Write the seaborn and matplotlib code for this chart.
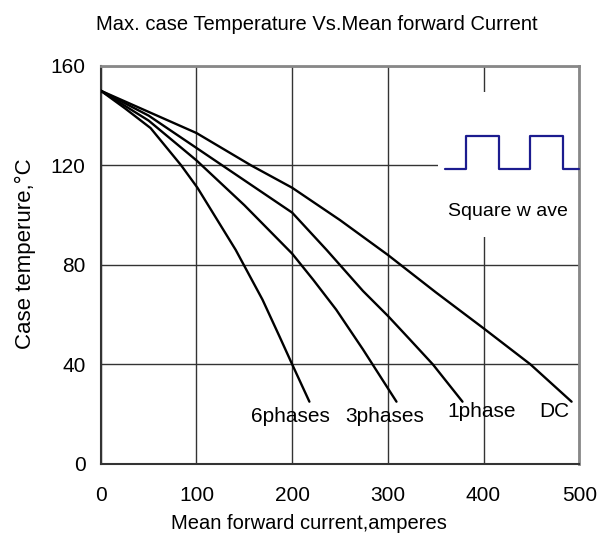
import matplotlib
matplotlib.use("Agg")
import matplotlib.pyplot as plt
import seaborn as sns
import pandas as pd
from matplotlib.patches import Rectangle

# values
current_6ph = [0, 25, 52, 84, 101, 125, 141, 169, 187, 200, 218]
temp_6ph = [150, 143, 135, 120, 111, 96, 86, 66, 51, 40, 25]

current_3ph = [0, 50, 100, 150, 200, 222, 246, 274, 309]
temp_3ph = [150, 138, 122, 104, 84.5, 74, 62, 46, 25]

current_1ph = [0, 50, 100, 150, 200, 236, 274, 300, 323, 347, 378]
temp_1ph = [150, 140, 127, 114, 101, 86, 69.5, 59.5, 50, 40, 25]

current_dc = [0, 50, 100, 157, 200, 250, 300, 350, 400, 449, 492]
temp_dc = [150, 141.5, 133, 120, 111, 98, 84, 69, 54.5, 40, 25]

series_names = ["6phases", "3phases", "1phase", "DC"]
label_x = [198, 297, 398, 474]
label_y = [19, 19, 21, 21]

wave_x = [360, 382, 382, 416, 416, 449, 449, 483, 483, 500]
wave_y = [118.5, 118.5, 132, 132, 118.5, 118.5, 132, 132, 118.5, 118.5]

x_ticks = [0, 100, 200, 300, 400, 500]
y_ticks = [0, 40, 80, 120, 160]

frames = []
for name, xs, ys in zip(series_names,
                        [current_6ph, current_3ph, current_1ph, current_dc],
                        [temp_6ph, temp_3ph, temp_1ph, temp_dc]):
    frames.append(pd.DataFrame({"current": xs, "temp": ys, "series": name}))
df = pd.concat(frames, ignore_index=True)

sns.set_style("white")
plt.rcParams["font.family"] = ["Liberation Sans", "DejaVu Sans"]
plt.rcParams["text.color"] = "black"
plt.rcParams["xtick.color"] = "black"
plt.rcParams["ytick.color"] = "black"

fig, ax = plt.subplots(figsize=(6.11, 5.40), dpi=100)
fig.subplots_adjust(left=0.165, right=0.948, bottom=0.141, top=0.878)

sns.lineplot(data=df, x="current", y="temp", hue="series", sort=False,
             palette=["black"] * 4, linewidth=1.7, legend=False, ax=ax, zorder=3)

ax.set_xlim(0, 500)
ax.set_ylim(0, 160)
ax.set_xticks(x_ticks)
ax.set_yticks(y_ticks)
ax.grid(True, color="#333333", linewidth=1)
ax.set_axisbelow(True)
ax.tick_params(axis="x", direction="in", length=0, pad=16, labelsize=15)
ax.tick_params(axis="y", direction="in", length=5, width=1.2, pad=11,
               labelsize=15, color="#333333")
for side in ["left", "bottom"]:
    ax.spines[side].set_color("#333333")
    ax.spines[side].set_linewidth(1.5)
for side in ["top", "right"]:
    ax.spines[side].set_color("#888888")
    ax.spines[side].set_linewidth(2)
ax.set_xlabel("")
ax.set_ylabel("")

# white panel behind the square wave symbol
ax.add_patch(Rectangle((352, 91.4), 148, 58.2, facecolor="white",
                       edgecolor="none", zorder=1.5))
ax.plot(wave_x, wave_y, color="#1c1c8f", linewidth=1.6, zorder=3, clip_on=False)
ax.text(426, 101.5, "Square w ave", ha="center", va="center", fontsize=14, zorder=4)

for name, lx, ly in zip(series_names, label_x, label_y):
    ax.text(lx, ly, name, ha="center", va="center", fontsize=15, zorder=4)

fig.text(0.519, 0.955, "Max. case Temperature Vs.Mean forward Current",
         ha="center", va="center", fontsize=14.5)
fig.text(0.505, 0.031, "Mean forward current,amperes",
         ha="center", va="center", fontsize=14.5)
fig.text(0.041, 0.531, "Case temperure,\u00b0C", rotation=90,
         ha="center", va="center", fontsize=16)

fig.savefig("out.png", dpi=100)
